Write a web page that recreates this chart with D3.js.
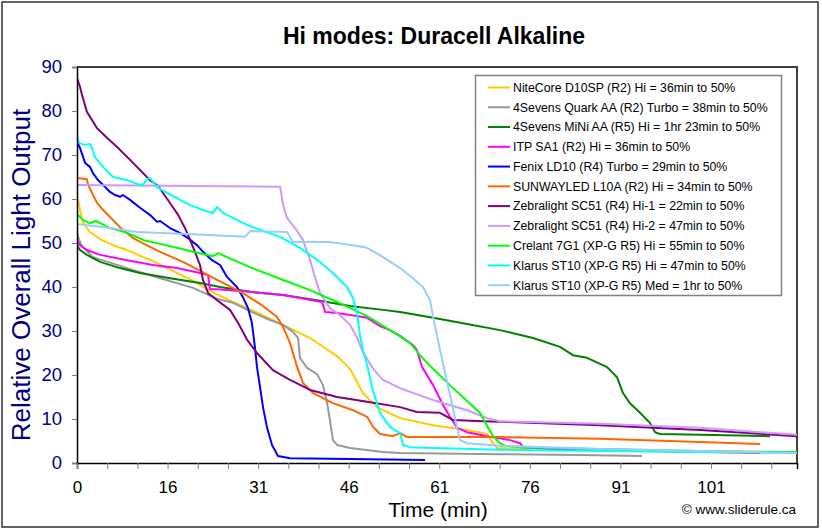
<!DOCTYPE html>
<html><head><meta charset="utf-8">
<script src="https://cdn.jsdelivr.net/npm/d3@7/dist/d3.min.js"></script>
<style>
html,body{margin:0;padding:0;background:#fff;}
svg{display:block;font-family:"Liberation Sans",Arial,sans-serif;}
</style></head>
<body>
<svg id="chart" width="822" height="530"></svg>
<script>
// ---------- DATA (x = position along the time axis in axis-category units, y = relative output %) ----------
const seriesNames = [
  "NiteCore D10SP (R2) Hi = 36min to 50%",
  "4Sevens Quark AA (R2) Turbo = 38min to 50%",
  "4Sevens MiNi AA (R5) Hi = 1hr 23min to 50%",
  "ITP SA1 (R2) Hi = 36min to 50%",
  "Fenix LD10 (R4) Turbo = 29min to 50%",
  "SUNWAYLED L10A (R2) Hi = 34min to 50%",
  "Zebralight SC51 (R4) Hi-1 = 22min to 50%",
  "Zebralight SC51 (R4) Hi-2 = 47min to 50%",
  "Crelant 7G1 (XP-G R5) Hi = 55min to 50%",
  "Klarus ST10 (XP-G R5) Hi = 47min to 50%",
  "Klarus ST10 (XP-G R5) Med = 1hr to 50%"
];
const seriesColors = ["#FFCC00","#999999","#008000","#FF00FF","#0000FF","#FF6600","#800080","#CC99FF","#00FF00","#00FFFF","#99CCFF"];

const niteCore = [[0,60.5],[0.03,60],[0.1,57.5],[0.2,54.5],[0.43,52.5],[0.77,50.9],[1.2,49.5],[1.67,48.4],[2.2,46.8],[2.53,45.9],[3.33,43.2],[3.87,41.4],[4.43,39.1],[5.2,36.6],[6.1,33.9],[6.87,31.4],[7.77,28.4],[8.67,24.3],[9.1,21.4],[9.53,15.9],[10.0,12.7],[10.77,10.2],[11.87,8.6],[13.0,7.5],[13.67,6.6],[13.87,4.5],[14.0,3.4],[15.1,3.2]];
const quarkAA = [[0,52.3],[0.07,50.7],[0.17,49.3],[0.53,46.8],[1.67,44.3],[2.77,42],[3.87,39.8],[4.67,37.3],[5.2,36.4],[5.77,34.5],[6.43,32.5],[6.87,31.4],[7.2,29.8],[7.37,28.4],[7.43,23.9],[7.67,21.6],[8.0,20.2],[8.2,17.7],[8.33,13.9],[8.43,9.8],[8.53,5.2],[8.67,4.1],[9.1,3.4],[10.2,2.5],[10.77,2.3],[14.1,2],[16.77,1.8],[18.83,1.6]];
const miniAA = [[0,49.5],[0.1,48.4],[0.33,47.3],[0.77,45.7],[1.43,44.3],[2.1,43.2],[3.1,42],[4.1,40.9],[4.77,40],[5.77,38.9],[6.87,38.2],[8.0,37],[9.1,35.7],[10.2,34.8],[10.77,34.3],[11.87,33],[13.0,31.6],[14.1,30.2],[15.2,28.4],[16.1,26.4],[16.53,24.5],[17.0,23.9],[17.67,21.8],[18.0,19.5],[18.2,15.9],[18.43,13.6],[18.77,11.4],[19.1,9.1],[19.27,7],[19.43,6.6],[20.77,6.4],[23.1,6.1]];
const itpSA1 = [[0,50.7],[0.1,49.5],[0.33,48.4],[0.77,47.3],[1.67,46.1],[2.53,45],[3.33,44.3],[4.1,43.2],[4.37,42.7],[4.43,39.5],[4.67,39.5],[5.77,38.9],[6.87,38.2],[8.17,36.6],[8.27,34.3],[8.67,34.1],[9.33,33.4],[9.67,33],[10.1,31.1],[10.43,30.2],[10.77,28.9],[11.2,26.8],[11.33,25.7],[11.5,21.8],[11.87,17.7],[12.2,13.2],[12.43,10.5],[12.67,8],[13.0,7],[13.67,6.1],[14.43,5.2],[14.77,4.5],[14.87,3.6],[15.77,3.2],[19.1,2.7],[22.77,2.3]];
const fenixLD10 = [[0,73],[0.1,71.6],[0.27,68.2],[0.43,67.3],[0.53,65.9],[0.7,64.3],[0.87,63.2],[1.1,61.6],[1.27,60.9],[1.43,60.5],[1.53,60.9],[1.77,59.8],[2.1,58],[2.43,56.4],[2.67,54.8],[2.77,55],[3.1,53.4],[3.43,52.3],[3.7,51.1],[4.0,49.5],[4.2,48],[4.5,46.1],[4.77,45],[5.0,42.3],[5.33,40],[5.53,37.7],[5.7,35.2],[5.83,31.8],[5.93,26.4],[6.0,21.8],[6.1,17.3],[6.2,12.7],[6.33,8.2],[6.5,4.1],[6.7,1.6],[7.1,1.1],[9.1,0.9],[11.6,0.7]];
const sunwayled = [[0,64.8],[0.33,64.5],[0.37,63.2],[0.5,61.4],[0.67,59.1],[0.87,57.5],[1.1,55.9],[1.43,53.6],[1.87,51.1],[2.43,49.1],[2.77,48],[3.53,45.7],[3.87,44.5],[4.67,41.6],[5.53,38.6],[6.2,35.7],[6.67,33.2],[6.87,30.9],[7.1,27.3],[7.33,22],[7.53,18.2],[7.87,15.9],[8.53,13.6],[9.2,12],[9.67,10.5],[9.87,8.2],[10.1,6.6],[10.53,6.1],[10.77,6.8],[11.0,5.9],[14.1,5.9],[17.43,5.5],[20.77,4.8],[22.77,4.3]];
const zebraHi1 = [[0,87.5],[0.1,85.5],[0.17,83.6],[0.33,79.8],[0.67,76.1],[1.0,73.9],[1.37,71.6],[1.77,68.9],[2.1,66.6],[2.43,64.3],[2.7,63],[3.1,59.1],[3.37,56.4],[3.6,53.4],[3.77,50.7],[3.97,47.3],[4.1,45],[4.2,41.6],[4.37,38.6],[4.67,37],[5.1,34.8],[5.37,31.8],[5.67,28],[6.0,25],[6.53,21.1],[7.1,18.9],[7.77,16.6],[8.67,15],[9.67,13.9],[10.77,12.7],[11.33,11.6],[12.1,11.4],[12.53,9.8],[13.53,9.5],[17.43,8.6],[20.77,7.5],[24,6.1]];
const zebraHi2 = [[0,63.2],[6.77,62.8],[6.87,58.6],[7.0,55.7],[7.27,53.4],[7.53,50.7],[7.77,46.1],[7.93,42.3],[8.1,38.6],[8.43,35.2],[8.77,33.6],[9.1,31.4],[9.33,28.6],[9.53,25.2],[9.87,21.4],[10.2,18.9],[10.77,17],[11.87,14.3],[13.0,12],[13.67,10.2],[14.1,9.5],[17.43,8.9],[20.77,8],[24,6.4]];
const crelant = [[0,56.6],[0.2,55.2],[0.43,54.5],[0.63,55],[1.1,53.4],[1.67,52.3],[2.2,50.7],[2.77,49.8],[3.33,48.9],[3.87,48],[4.53,47],[4.7,47.7],[5.0,46.8],[5.77,44.5],[6.87,41.6],[7.77,39.3],[8.67,36.6],[9.67,33.4],[10.53,29.8],[11.1,27.3],[11.43,24.5],[11.87,21.4],[12.43,17.7],[13.0,14.1],[13.43,11.4],[13.67,8.4],[13.87,6.1],[14.1,4.5],[14.27,3.9],[14.77,3.6],[17.43,3.2],[20.77,2.7],[24,2.5]];
const klarusHi = [[0,74.1],[0.07,72.7],[0.27,72.3],[0.43,72.5],[0.5,71.6],[0.6,69.5],[0.87,67.3],[1.2,65],[1.67,64.3],[2.17,63],[2.33,64.5],[2.43,64.8],[2.67,62.7],[3.0,61.4],[3.33,60.2],[3.77,58.6],[4.2,57.5],[4.53,56.8],[4.67,58.2],[4.87,56.8],[5.2,55.7],[5.67,54.1],[6.1,53],[6.77,51.4],[7.43,48.9],[8.1,45.7],[8.53,43.2],[9.0,40],[9.2,37.5],[9.33,34.1],[9.43,29.1],[9.53,25.7],[9.67,22.3],[9.83,17.3],[10.1,11.4],[10.43,8.2],[10.77,6.8],[10.87,4.1],[11.1,3.6],[11.87,3.4],[14.1,3],[17.43,2.7],[20.77,2.5],[24,2.3]];
const klarusMed = [[0,54.3],[1.1,53.4],[2.0,52.5],[3.87,52],[5.6,51.4],[5.77,52.7],[7.0,52.5],[7.2,50.2],[8.43,50.2],[9.2,49.5],[9.67,48.9],[10.2,46.8],[10.77,44.3],[11.2,42],[11.53,40],[11.77,37],[11.87,33.2],[12.1,25.7],[12.43,15.5],[12.67,8],[12.77,5.2],[13.0,4.5],[14.1,3.9],[17.43,3.2],[20.77,2.7],[24,2.3]];
const seriesData = [niteCore, quarkAA, miniAA, itpSA1, fenixLD10, sunwayled, zebraHi1, zebraHi2, crelant, klarusHi, klarusMed];

const yTicks = [0,10,20,30,40,50,60,70,80,90];
const xTickLabels = ["0","16","31","46","61","76","91","101"];
const xTickLabelIndex = [0,3,6,9,12,15,18,21];
const xCategoryTicks = d3.range(0,24);

// ---------- LAYOUT ----------
const W = 822, H = 530;
const plot = {left:77, top:67, right:797, bottom:463};
const svg = d3.select("#chart");

const x = d3.scaleLinear().domain([0,24]).range([plot.left, plot.right]);
const xCat = d3.scaleLinear().domain([0,23.85]).range([plot.left, plot.right]);
const y = d3.scaleLinear().domain([0,90]).range([plot.bottom, plot.top]);

// outer frame
svg.append("rect").attr("x",2).attr("y",2).attr("width",W-6).attr("height",H-5)
  .attr("fill","#fff").attr("stroke","#303030").attr("stroke-width",1.5);

// title
svg.append("text").attr("x",434).attr("y",44).attr("text-anchor","middle")
  .attr("font-size",23).attr("font-weight","bold").attr("fill","#000")
  .text("Hi modes: Duracell Alkaline");

// plot frame top/right
svg.append("path").attr("d",`M${plot.left},${plot.top}H${plot.right}V${plot.bottom}`)
  .attr("fill","none").attr("stroke","#404040").attr("stroke-width",2);

// clip
svg.append("clipPath").attr("id","clip").append("rect")
  .attr("x",plot.left).attr("y",plot.top-2).attr("width",plot.right-plot.left).attr("height",plot.bottom-plot.top+2);

// lines
const line = d3.line().x(d=>x(d[0])).y(d=>y(d[1]));
const g = svg.append("g").attr("clip-path","url(#clip)");
seriesData.forEach((s,i)=>{
  g.append("path").datum(s).attr("d",line).attr("fill","none")
    .attr("stroke",seriesColors[i]).attr("stroke-width",2).attr("stroke-linejoin","round");
});

// y axis
const yAxis = d3.axisLeft(y).tickValues(yTicks).tickSize(5).tickPadding(10);
const ya = svg.append("g").attr("transform",`translate(${plot.left},0)`).call(yAxis);
ya.select(".domain").attr("stroke","#000").attr("stroke-width",1.5);
ya.selectAll(".tick line").attr("stroke","#808080");
ya.selectAll(".tick text").attr("fill","#000080").attr("font-size",18.5).attr("font-family","Liberation Sans, Arial, sans-serif");

// x axis
const xAxis = d3.axisBottom(xCat).tickValues(xCategoryTicks).tickSize(6).tickFormat(d=>{
  const k = xTickLabelIndex.indexOf(d); return k>=0 ? xTickLabels[k] : "";
}).tickPadding(12);
const xa = svg.append("g").attr("transform",`translate(0,${plot.bottom})`).call(xAxis);
xa.select(".domain").attr("stroke","#000").attr("stroke-width",1.5);
xa.selectAll(".tick line").attr("stroke","#808080");
xa.selectAll(".tick text").attr("fill","#000").attr("font-size",17).attr("font-family","Liberation Sans, Arial, sans-serif");

// axis titles
svg.append("text").attr("transform","translate(30,275) rotate(-90)").attr("text-anchor","middle")
  .attr("font-size",26).attr("fill","#000080").text("Relative Overall Light Output");
svg.append("text").attr("x",438).attr("y",517).attr("text-anchor","middle")
  .attr("font-size",21).attr("fill","#000").text("Time (min)");
svg.append("text").attr("x",796).attr("y",514).attr("text-anchor","end")
  .attr("font-size",13.5).attr("fill","#000").text("© www.sliderule.ca");

// legend
const lg = svg.append("g");
lg.append("rect").attr("x",475.5).attr("y",75.5).attr("width",306).attr("height",220)
  .attr("fill","#fff").attr("stroke","#808080").attr("stroke-width",1.5);
seriesNames.forEach((n,i)=>{
  const yy = 87.5 + i*19.77;
  lg.append("line").attr("x1",488).attr("x2",510).attr("y1",yy).attr("y2",yy)
    .attr("stroke",seriesColors[i]).attr("stroke-width",2);
  lg.append("text").attr("x",513).attr("y",yy+4.3).attr("font-size",12.3).attr("fill","#000").text(n);
});
</script>
</body></html>
